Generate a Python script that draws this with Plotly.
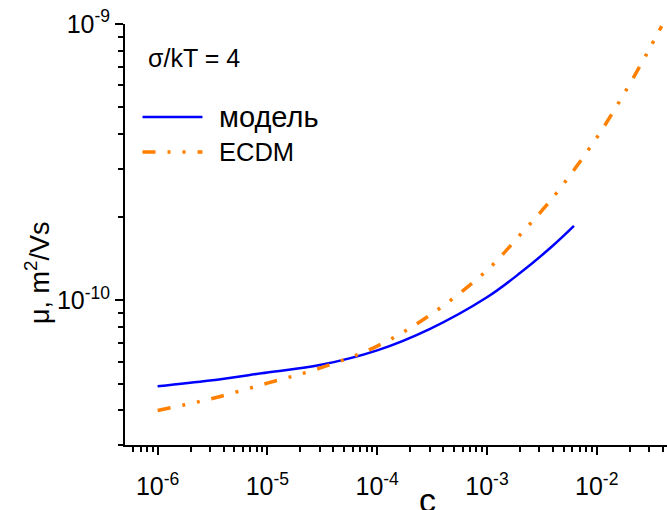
import plotly.graph_objects as go
import numpy as np

# ---- data ----
c_model = [1e-6, 3e-6, 1e-5, 3e-5, 1e-4, 3e-4, 1e-3, 2e-3, 4e-3, 6.2e-3]
mu_model = [4.89e-11, 5.13e-11, 5.49e-11, 5.84e-11, 6.60e-11, 7.88e-11, 1.027e-10, 1.256e-10, 1.58e-10, 1.86e-10]

c_ecdm = [1e-6, 3e-6, 1e-5, 3e-5, 1e-4, 3e-4, 1e-3, 2e-3, 4e-3, 1e-2, 2e-2, 3e-2, 3.9e-2]
mu_ecdm = [4.0e-11, 4.40e-11, 5.02e-11, 5.69e-11, 6.84e-11, 8.83e-11, 1.285e-10, 1.726e-10, 2.36e-10, 3.88e-10, 6.07e-10, 8.09e-10, 9.82e-10]

x_tickvals = [1e-6, 1e-5, 1e-4, 1e-3, 1e-2]
x_ticktext = ["10<sup>-6</sup>", "10<sup>-5</sup>", "10<sup>-4</sup>", "10<sup>-3</sup>", "10<sup>-2</sup>"]
y_tickvals = [1e-10, 1e-9]
y_ticktext = ["10<sup>-10</sup>", "10<sup>-9</sup>"]

series_names = ["модель", "ECDM"]
annotation_text = "σ/kT = 4"
x_title = "c"
y_title = "μ, m<sup>2</sup>/Vs"

FONT = "Liberation Sans, Arial, sans-serif"
BLUE = "#0000ff"
ORANGE = "#ff8000"
DASH = "13px,12px,3px,12px,3px,12px"

x_minor = [m * 10.0 ** e for e in range(-7, 0) for m in range(2, 10)]
y_minor = [m * 10.0 ** e for e in range(-11, -9) for m in range(2, 10)]

fig = go.Figure()
fig.add_trace(go.Scatter(x=c_model, y=mu_model, mode="lines", name=series_names[0],
                         line=dict(color=BLUE, width=2.5, shape="spline"), showlegend=False))
fig.add_trace(go.Scatter(x=c_ecdm, y=mu_ecdm, mode="lines", name=series_names[1],
                         line=dict(color=ORANGE, width=3.5, dash=DASH, shape="spline"), showlegend=False))

axis_common = dict(
    type="log", showgrid=False, zeroline=False, showline=True, linecolor="black", linewidth=2,
    ticks="outside", ticklen=8, tickwidth=2, tickcolor="black", tickmode="array",
    tickfont=dict(family=FONT, size=25, color="black"), mirror=False, automargin=False,
)

fig.update_xaxes(**axis_common, tickvals=x_tickvals, ticktext=x_ticktext,
                 range=[-6.297, -1.36], ticklabelstandoff=10,
                 minor=dict(tickmode="array", tickvals=x_minor, ticks="outside", ticklen=5,
                            tickwidth=2, tickcolor="black", showgrid=False))
fig.update_yaxes(**axis_common, tickvals=y_tickvals, ticktext=y_ticktext,
                 range=[np.log10(3e-11), -9],
                 minor=dict(tickmode="array", tickvals=y_minor, ticks="outside", ticklen=5,
                            tickwidth=2, tickcolor="black", showgrid=False))

# axis titles
fig.add_annotation(xref="paper", yref="paper", x=(427 - 124.5) / 542.5, y=-0.13, text=x_title,
                   showarrow=False, xanchor="center", yanchor="middle",
                   font=dict(family=FONT, size=34, color="black"))
fig.add_annotation(xref="paper", yref="paper", x=(37 - 124.5) / 542.5, y=0.41, text=y_title,
                   showarrow=False, xanchor="center", yanchor="middle", textangle=-90,
                   font=dict(family=FONT, size=27, color="black"))

# manual legend
leg = [(0.779, BLUE, "solid", 2.5, series_names[0], 29), (0.696, ORANGE, DASH, 3.5, series_names[1], 25.5)]
for yy, col, dash, w, name, fs in leg:
    fig.add_shape(type="line", xref="paper", yref="paper", x0=0.0323, x1=0.1429, y0=yy, y1=yy,
                  line=dict(color=col, width=w, dash=dash))
    fig.add_annotation(xref="paper", yref="paper", x=0.1705, y=yy, text=name, showarrow=False,
                       xanchor="left", yanchor="middle", font=dict(family=FONT, size=fs, color="black"))

fig.add_annotation(xref="paper", yref="paper", x=0.0396, y=0.919, text=annotation_text, showarrow=False,
                   xanchor="left", yanchor="middle", font=dict(family=FONT, size=25, color="black"))

fig.update_layout(width=667, height=510, paper_bgcolor="white", plot_bgcolor="white",
                  margin=dict(l=124.5, r=0, t=24, b=64.5), showlegend=False,
                  font=dict(family=FONT, color="black"))

fig.write_html("out.html", config={"displayModeBar": False},
               post_script="document.body.style.margin='0';document.body.style.overflow='hidden';")
